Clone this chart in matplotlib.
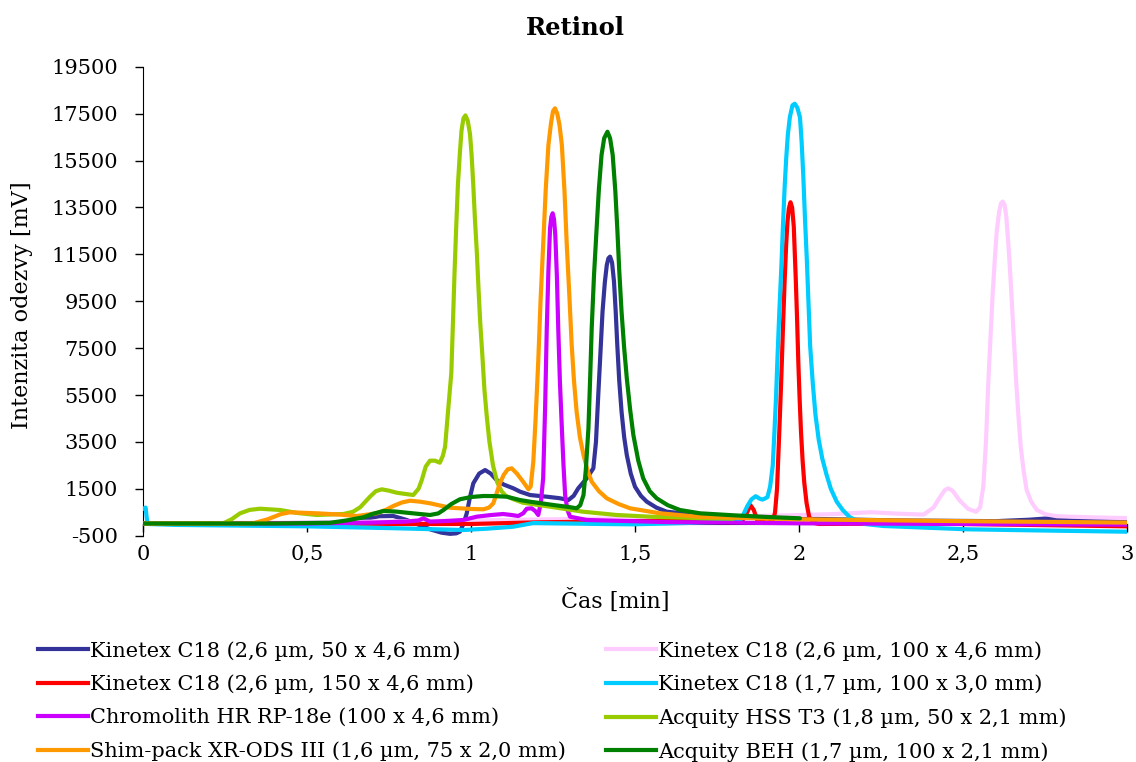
import matplotlib
matplotlib.use("Agg")
import matplotlib.pyplot as plt
from matplotlib.lines import Line2D

plt.rcParams['font.family'] = ['DejaVu Serif']
plt.rcParams['axes.unicode_minus'] = False

# chromatogram traces: time [min], response [mV]
blue_x = [0, 0.3, 0.6, 0.672, 0.72, 0.763, 0.804, 0.84, 0.875, 0.91, 0.936, 0.955, 0.966, 0.977, 0.987,
          0.997, 1.007, 1.025, 1.043, 1.06, 1.078, 1.10, 1.129, 1.15, 1.18, 1.231, 1.27, 1.297, 1.313,
          1.327, 1.353, 1.373, 1.381, 1.388, 1.395, 1.401, 1.408, 1.414, 1.419, 1.424, 1.43, 1.436,
          1.441, 1.446, 1.452, 1.459, 1.467, 1.475, 1.487, 1.5, 1.518, 1.536, 1.565, 1.597, 1.7, 1.8,
          2.0, 2.3, 2.6, 2.7, 2.76, 2.82, 3.0]
blue_y = [30, 20, 60, 200, 330, 340, 170, -30, -227, -370, -420, -400, -330, 0, 455,
          1150, 1734, 2150, 2300, 2150, 1875, 1680, 1521, 1376, 1235, 1163, 1100, 1022, 1200,
          1521, 1947, 2374, 3500, 5499, 7400, 9052, 10300, 11043, 11330, 11400, 11150, 10331,
          9100, 7631, 6100, 4787, 3700, 2941, 2150, 1589, 1200, 950, 700, 523, 380, 310,
          230, 150, 120, 180, 240, 160, 100]

pink_x = [0, 0.5, 1.0, 1.5, 1.9, 2.0, 2.1, 2.22, 2.3, 2.38, 2.41, 2.43, 2.445, 2.455, 2.468, 2.49,
          2.515, 2.54, 2.552, 2.562, 2.57, 2.577, 2.584, 2.59, 2.597, 2.603, 2.61, 2.616, 2.621,
          2.627, 2.632, 2.638, 2.643, 2.648, 2.655, 2.662, 2.669, 2.676, 2.685, 2.694, 2.708,
          2.725, 2.75, 2.786, 2.9, 3.0]
pink_y = [30, 60, 150, 250, 350, 380, 420, 500, 440, 400, 700, 1150, 1450, 1520, 1420, 1000,
          650, 520, 700, 1600, 3500, 6000, 8000, 9700, 11300, 12500, 13300, 13680, 13750,
          13600, 13100, 12000, 10900, 9700, 7900, 6100, 4600, 3300, 2250, 1450, 950,
          600, 420, 330, 280, 250]

red_x = [0, 0.5, 0.8, 1.0, 1.2, 1.5, 1.8, 1.83, 1.842, 1.852, 1.862, 1.873, 1.9, 1.92, 1.927, 1.933,
         1.94, 1.946, 1.951, 1.956, 1.961, 1.965, 1.969, 1.974, 1.979, 1.984, 1.99, 1.994, 1.998,
         2.002, 2.006, 2.011, 2.016, 2.023, 2.031, 2.045, 2.06, 2.3, 2.5, 2.8, 3.0]
red_y = [20, 20, 0, 0, 70, 120, 150, 200, 500, 800, 600, 150, 60, 100, 500, 1500,
         3952, 6200, 8314, 10300, 11955, 12900, 13450, 13720, 13500, 12700, 10501, 8800, 6864,
         5300, 3952, 2700, 1768, 900, 300, 50, 0, 20, 0, -60, -100]

cyan_x = [0, 0.008, 0.011, 0.014, 0.1, 0.3, 0.5, 0.773, 0.977, 1.05, 1.129, 1.19, 1.3, 1.393, 1.494,
          1.6, 1.8, 1.821, 1.832, 1.842, 1.855, 1.868, 1.88, 1.888, 1.897, 1.904, 1.912, 1.92,
          1.925, 1.93, 1.935, 1.94, 1.946, 1.951, 1.956, 1.961, 1.966, 1.972, 1.98, 1.987, 1.995,
          2.003, 2.008, 2.013, 2.018, 2.024, 2.029, 2.034, 2.042, 2.05, 2.06, 2.071, 2.084, 2.097,
          2.115, 2.133, 2.155, 2.2, 2.257, 2.511, 2.75, 3.0]
cyan_y = [650, 700, 300, 0, -40, -70, -100, -184, -257, -200, -116, 40, 20, 0, -14,
          20, 97, 150, 450, 749, 1050, 1184, 1080, 1040, 1090, 1150, 1600, 2498,
          3900, 5406, 7300, 9047, 10900, 12684, 14300, 15592, 16600, 17340, 17850, 17920, 17750,
          17340, 16300, 14867, 13100, 11230, 9400, 7590, 6000, 4681, 3600, 2788, 2100, 1500,
          950, 600, 285, 0, -86, -227, -280, -330]

magenta_x = [0, 0.5, 0.7, 0.8, 0.84, 0.855, 0.875, 0.93, 0.977, 1.017, 1.06, 1.098, 1.125, 1.144,
             1.159, 1.17, 1.185, 1.196, 1.205, 1.213, 1.22, 1.226, 1.231, 1.236, 1.241, 1.245, 1.249,
             1.253, 1.257, 1.262, 1.266, 1.271, 1.277, 1.282, 1.287, 1.294, 1.302, 1.353, 1.6, 2.0,
             2.5, 3.0]
magenta_y = [20, 20, 60, 100, 150, 242, 100, 130, 170, 310, 380, 425, 380, 340,
             455, 650, 668, 550, 383, 900, 1947, 5000, 8342, 10800, 12607, 13100, 13250,
             13000, 12322, 10500, 8342, 6100, 4080, 2500, 1235, 600, 310, 170, 80, 30,
             0, -30]

hss_x = [0, 0.245, 0.27, 0.296, 0.325, 0.357, 0.418, 0.47, 0.53, 0.611, 0.64, 0.662, 0.692, 0.71,
         0.728, 0.75, 0.773, 0.8, 0.824, 0.84, 0.85, 0.862, 0.875, 0.89, 0.905, 0.914, 0.921, 0.93,
         0.94, 0.945, 0.95, 0.955, 0.96, 0.966, 0.971, 0.977, 0.983, 0.99, 0.997, 1.002, 1.007,
         1.012, 1.018, 1.023, 1.028, 1.035, 1.041, 1.048, 1.056, 1.067, 1.08, 1.093, 1.106, 1.13,
         1.158, 1.241, 1.342, 1.444, 1.546, 1.7, 1.8]
hss_y = [20, 30, 200, 455, 600, 651, 596, 470, 383, 425, 520, 711, 1163, 1400,
         1478, 1420, 1334, 1280, 1235, 1500, 1875, 2450, 2700, 2700, 2613, 2900, 3295, 4800,
         6438, 8600, 10804, 12700, 14441, 15800, 16769, 17300, 17422, 17200, 16625, 15700, 14441,
         13000, 11529, 10000, 8620, 7100, 5713, 4600, 3525, 2500, 1777, 1400, 1197, 1050,
         907, 737, 523, 383, 310, 250, 230]

orange_x = [0, 0.3, 0.336, 0.38, 0.42, 0.448, 0.53, 0.6, 0.652, 0.713, 0.74, 0.763, 0.79, 0.814,
            0.845, 0.875, 0.936, 1.0, 1.038, 1.055, 1.068, 1.078, 1.088, 1.1, 1.112, 1.124, 1.14,
            1.159, 1.175, 1.182, 1.19, 1.197, 1.205, 1.212, 1.22, 1.228, 1.236, 1.244, 1.25, 1.256,
            1.263, 1.27, 1.277, 1.285, 1.292, 1.3, 1.307, 1.314, 1.322, 1.332, 1.343, 1.355, 1.368,
            1.39, 1.414, 1.45, 1.485, 1.576, 1.7, 2.0, 2.5, 3.0]
orange_y = [20, 20, 30, 200, 420, 498, 455, 400, 340, 455, 600, 766, 920, 992,
            950, 882, 694, 640, 626, 700, 882, 1300, 1734, 2100, 2330, 2374, 2150,
            1800, 1480, 1600, 2655, 4500, 6919, 9500, 11896, 14300, 16160, 17100, 17600, 17725,
            17500, 17000, 16160, 14200, 11896, 9700, 7631, 6100, 4787, 3700, 2941, 2300, 1803,
            1400, 1095, 850, 668, 455, 300, 200, 120, 60]

beh_x = [0, 0.4, 0.57, 0.62, 0.672, 0.7, 0.733, 0.77, 0.804, 0.84, 0.875, 0.9, 0.916, 0.94, 0.966,
         1.0, 1.038, 1.07, 1.109, 1.149, 1.18, 1.251, 1.3, 1.322, 1.333, 1.343, 1.35, 1.358, 1.363,
         1.368, 1.375, 1.383, 1.39, 1.398, 1.406, 1.416, 1.424, 1.432, 1.44, 1.446, 1.452, 1.459,
         1.467, 1.475, 1.485, 1.495, 1.51, 1.525, 1.545, 1.566, 1.6, 1.637, 1.698, 1.8, 1.9, 2.003]
beh_y = [20, 20, 50, 150, 285, 430, 553, 530, 481, 430, 383, 450, 596, 850, 1052,
         1150, 1193, 1190, 1163, 1022, 950, 809, 720, 668, 800, 1235, 2300, 4080, 6100,
         8342, 10600, 12607, 14300, 15734, 16450, 16726, 16450, 15734, 14200, 12607, 10800, 9052,
         7500, 6212, 4900, 3794, 2700, 1947, 1400, 1095, 800, 596, 455, 370, 300, 242]

names = ['Kinetex C18 (2,6 µm, 50 x 4,6 mm)', 'Kinetex C18 (2,6 µm, 100 x 4,6 mm)',
         'Kinetex C18 (2,6 µm, 150 x 4,6 mm)', 'Kinetex C18 (1,7 µm, 100 x 3,0 mm)',
         'Chromolith HR RP-18e (100 x 4,6 mm)', 'Acquity HSS T3 (1,8 µm, 50 x 2,1 mm)',
         'Shim-pack XR-ODS III (1,6 µm, 75 x 2,0 mm)', 'Acquity BEH (1,7 µm, 100 x 2,1 mm)']
colors = ['#333399', '#FFCCFF', '#FF0000', '#00CCFF', '#CC00FF', '#99CC00', '#FF9900', '#008000']

x_ticks = [0, 0.5, 1, 1.5, 2, 2.5, 3]
x_labels = ['0', '0,5', '1', '1,5', '2', '2,5', '3']
y_ticks = list(range(-500, 19501, 2000))

series = [(blue_x, blue_y), (pink_x, pink_y), (red_x, red_y), (cyan_x, cyan_y),
          (magenta_x, magenta_y), (hss_x, hss_y), (orange_x, orange_y), (beh_x, beh_y)]

W, H = 1136, 762
fig = plt.figure(figsize=(W / 100, H / 100), dpi=100)
ax = fig.add_axes([143 / W, 1 - 535.7 / H, (1127 - 143) / W, (535.7 - 66.7) / H])

for (xs, ys), c in zip(series, colors):
    ax.plot(xs, ys, color=c, lw=3, solid_capstyle='round', solid_joinstyle='round', zorder=3)

ax.set_xlim(0, 3)
ax.set_ylim(-500, 19500)
ax.set_xticks(x_ticks)
ax.set_xticklabels(x_labels)
ax.set_yticks(y_ticks)
ax.spines['top'].set_visible(False)
ax.spines['right'].set_visible(False)
ax.spines['bottom'].set_position(('data', 0))
ax.tick_params(axis='x', direction='out', length=6, width=1, labelsize=15, pad=9)
ax.tick_params(axis='y', direction='out', length=6, width=1, labelsize=15, pad=12)

fig.text(575 / W, 1 - 28 / H, 'Retinol', fontsize=17.5, fontweight='bold', ha='center', va='center')
fig.text(615 / W, 1 - 601 / H, 'Čas [min]', fontsize=16, ha='center', va='center')
fig.text(22 / W, 1 - 305 / H, 'Intenzita odezvy [mV]', fontsize=16, rotation=90,
         ha='center', va='center')

handles = [Line2D([], [], color=c, lw=3) for c in colors]
left_idx = [0, 2, 4, 6]
right_idx = [1, 3, 5, 7]
for idx, x0 in ((left_idx, 38), (right_idx, 606)):
    fig.legend([handles[i] for i in idx], [names[i] for i in idx], loc='upper left',
               bbox_to_anchor=(x0 / W, 1 - 641 / H), frameon=False, fontsize=15,
               handlelength=2.4, handletextpad=0.12, labelspacing=0.67,
               borderpad=0, borderaxespad=0)

fig.savefig('out.png', dpi=100)
